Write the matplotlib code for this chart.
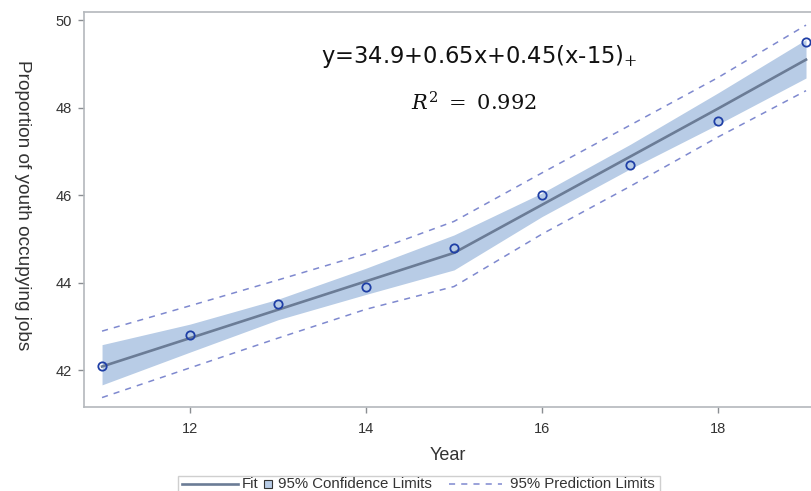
import matplotlib
matplotlib.use("Agg")
import matplotlib.pyplot as plt
from matplotlib.lines import Line2D
from matplotlib.patches import Rectangle

# Data
years = [11, 12, 13, 14, 15, 16, 17, 18, 19]
observed = [42.1, 42.8, 43.5, 43.9, 44.8, 46.0, 46.7, 47.7, 49.5]
fit = [42.08, 42.73, 43.38, 44.03, 44.68, 45.78, 46.88, 47.98, 49.10]
ci_lower = [41.66, 42.41, 43.15, 43.73, 44.29, 45.51, 46.60, 47.62, 48.68]
ci_upper = [42.58, 43.05, 43.62, 44.33, 45.09, 46.05, 47.16, 48.34, 49.56]
pi_lower = [41.37, 42.05, 42.73, 43.39, 43.91, 45.11, 46.20, 47.33, 48.39]
pi_upper = [42.89, 43.47, 44.06, 44.66, 45.40, 46.51, 47.60, 48.69, 49.89]
x_ticks = [12, 14, 16, 18]
y_ticks = [42, 44, 46, 48, 50]
legend_labels = ['Fit', '95% Confidence Limits', '95% Prediction Limits']

plt.rcParams['font.family'] = ['Liberation Sans', 'DejaVu Sans']
plt.rcParams['mathtext.fontset'] = 'dejavuserif'

W, H = 812, 491
fig = plt.figure(figsize=(W / 100, H / 100), dpi=100)
ax = fig.add_axes([84 / W, 1 - 407 / H, 1 - 84 / W, (407 - 12) / H])

fit_color = '#6b7c96'
ci_color = '#b8cce6'
pi_color = '#7f89cf'
mk_color = '#1f3fa6'
txt_color = '#333333'

ax.fill_between(years, ci_lower, ci_upper, color=ci_color, linewidth=0, zorder=1)
ax.plot(years, pi_upper, color=pi_color, linestyle=(0, (4, 4)), linewidth=1.1, zorder=2)
ax.plot(years, pi_lower, color=pi_color, linestyle=(0, (4, 4)), linewidth=1.1, zorder=2)
ax.plot(years, fit, color=fit_color, linewidth=1.9, zorder=3)
ax.plot(years, observed, linestyle='none', marker='o', markersize=6,
        markerfacecolor='none', markeredgecolor=mk_color, markeredgewidth=1.3, zorder=4)

ax.set_xlim(10.795, 19.068)
ax.set_ylim(41.154, 50.19)
ax.set_xticks(x_ticks)
ax.set_yticks(y_ticks)
ax.set_xticklabels([str(t) for t in x_ticks])
ax.set_yticklabels([str(t) for t in y_ticks])

for side in ['left', 'bottom', 'top']:
    ax.spines[side].set_color('#b4b8bc')
    ax.spines[side].set_linewidth(1.2)
ax.spines['right'].set_visible(False)
ax.tick_params(axis='both', direction='out', length=4.5, width=1, color='#8a8e92',
               labelsize=10.5, labelcolor=txt_color)
ax.tick_params(axis='x', pad=6)
ax.tick_params(axis='y', pad=4)

ax.set_xlabel('Year', fontsize=13, color=txt_color, labelpad=8)
fig.text(22 / W, 1 - 205 / H, 'Proportion of youth occupying jobs', rotation=270,
         ha='center', va='center', fontsize=13.7, color=txt_color)

fig.text(321 / W, 1 - 57 / H, r'y=34.9+0.65x+0.45(x-15)$_{+}$', ha='left', va='center',
         fontsize=16.3, color='#111111', family='DejaVu Sans')
fig.text(474 / W, 1 - 103 / H, r'$R^2\ =\ 0.992$', ha='center', va='center',
         fontsize=15, color='#111111')

# Manual legend (single row, like the reference)
ly = 1 - 484 / H
fig.add_artist(Rectangle((178 / W, 1 - 496 / H), (660 - 178) / W, 20 / H,
                         transform=fig.transFigure, facecolor='white',
                         edgecolor='#cfcfcf', linewidth=1.0))
fig.add_artist(Line2D([182 / W, 238 / W], [ly, ly], transform=fig.transFigure,
                      color=fit_color, linewidth=1.9))
fig.text(242 / W, ly, legend_labels[0], ha='left', va='center', fontsize=10.8, color=txt_color)
fig.add_artist(Rectangle((264.5 / W, ly - 4 / H), 8 / W, 8 / H, transform=fig.transFigure,
                         facecolor=ci_color, edgecolor='#333333', linewidth=0.8))
fig.text(278 / W, ly, legend_labels[1], ha='left', va='center', fontsize=10.8, color=txt_color)
fig.add_artist(Line2D([449 / W, 502 / W], [ly, ly], transform=fig.transFigure,
                      color=pi_color, linestyle=(0, (4, 4)), linewidth=1.1))
fig.text(510 / W, ly, legend_labels[2], ha='left', va='center', fontsize=10.8, color=txt_color)

fig.savefig('out.png', dpi=100)
